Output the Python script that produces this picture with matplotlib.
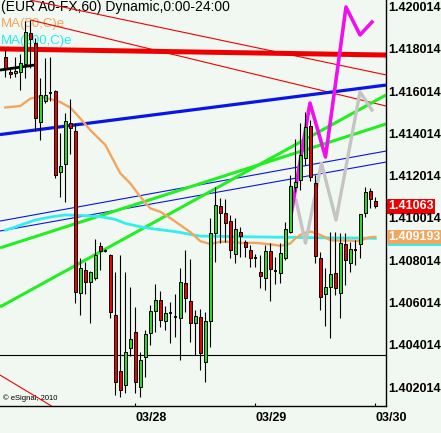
import numpy as np
import matplotlib.pyplot as plt
from matplotlib.patches import Rectangle
from matplotlib.transforms import blended_transform_factory

# EUR hourly bars (index = hour slot, 03/28 at 27, 03/29 at 51, 03/30 at 75)
bars = np.arange(1, 76)
opens = [1.41769, 1.41700, 1.41694, 1.41700, 1.41736, 1.41883, 1.41836, 1.41464, 1.41564, 1.41598,
         1.41609, 1.41227, 1.41262, 1.41456, 1.41420, 1.40652, 1.40762, 1.40707, 1.40723, 1.40876,
         1.40854, 1.40833, 1.40550, 1.40285, 1.40218, 1.40392, 1.40469, 1.40210, 1.40351, 1.40463,
         1.40570, 1.40620, 1.40523, 1.40557, 1.40541, 1.40534, 1.40701, 1.40616, 1.40510, 1.40539,
         1.40328, 1.40523, 1.40936, 1.41065, 1.41030, 1.40995, 1.40838, 1.40941, 1.40893, 1.40855,
         1.40817, 1.40751, 1.40723, 1.40854, 1.40759, 1.40747, 1.40818, 1.40943, 1.41156, 1.41188,
         1.41290, 1.41445, 1.41175, 1.40820, 1.40647, 1.40683, 1.40747, 1.40652, 1.40885, 1.40794,
         1.40857, 1.40884, 1.41030, 1.41136, 1.41090]
highs = [1.41803, 1.41722, 1.41769, 1.41784, 1.41940, 1.41945, 1.41859, 1.41670, 1.41765, 1.41769,
         1.41614, 1.41410, 1.41505, 1.41571, 1.41456, 1.40819, 1.40800, 1.40757, 1.40909, 1.40895,
         1.40862, 1.40838, 1.40754, 1.40833, 1.40754, 1.40683, 1.40589, 1.40375, 1.40478, 1.40597,
         1.40695, 1.40663, 1.40592, 1.40612, 1.40649, 1.40772, 1.40857, 1.40813, 1.40573, 1.40577,
         1.40564, 1.41008, 1.41156, 1.41101, 1.41098, 1.41022, 1.41007, 1.40967, 1.40904, 1.40881,
         1.40840, 1.40833, 1.40881, 1.40889, 1.40824, 1.40889, 1.40991, 1.41212, 1.41380, 1.41456,
         1.41511, 1.41472, 1.41212, 1.40847, 1.40772, 1.40942, 1.40941, 1.40936, 1.40937, 1.40896,
         1.40904, 1.41027, 1.41156, 1.41149, 1.41109]
lows = [1.41675, 1.41670, 1.41675, 1.41614, 1.41670, 1.41717, 1.41420, 1.41377, 1.41552, 1.41561,
        1.41198, 1.41107, 1.41085, 1.41311, 1.40605, 1.40550, 1.40649, 1.40512, 1.40715, 1.40762,
        1.40847, 1.40535, 1.40171, 1.40163, 1.40179, 1.40355, 1.40180, 1.40163, 1.40257, 1.40408,
        1.40470, 1.40492, 1.40478, 1.40417, 1.40447, 1.40339, 1.40564, 1.40423, 1.40360, 1.40289,
        1.40234, 1.40399, 1.40801, 1.40891, 1.40896, 1.40818, 1.40794, 1.40825, 1.40825, 1.40776,
        1.40776, 1.40676, 1.40668, 1.40617, 1.40696, 1.40699, 1.40809, 1.40936, 1.41130, 1.41140,
        1.41259, 1.41183, 1.40794, 1.40573, 1.40500, 1.40439, 1.40644, 1.40534, 1.40691, 1.40754,
        1.40786, 1.40818, 1.41014, 1.41057, 1.41054]
closes = [1.41717, 1.41689, 1.41703, 1.41739, 1.41888, 1.41857, 1.41481, 1.41590, 1.41590, 1.41598,
          1.41212, 1.41255, 1.41465, 1.41432, 1.40659, 1.40770, 1.40707, 1.40754, 1.40833, 1.40854,
          1.40854, 1.40564, 1.40234, 1.40194, 1.40376, 1.40436, 1.40234, 1.40336, 1.40458, 1.40568,
          1.40620, 1.40526, 1.40557, 1.40557, 1.40541, 1.40706, 1.40628, 1.40513, 1.40545, 1.40368,
          1.40521, 1.40936, 1.41070, 1.41030, 1.40986, 1.40857, 1.40956, 1.40925, 1.40872, 1.40818,
          1.40817, 1.40735, 1.40854, 1.40765, 1.40759, 1.40841, 1.40955, 1.41160, 1.41177, 1.41306,
          1.41437, 1.41204, 1.40830, 1.40636, 1.40680, 1.40742, 1.40676, 1.40891, 1.40808, 1.40860,
          1.40857, 1.41026, 1.41130, 1.41097, 1.41063]

# moving averages, read at a few bars
ma50_x = [1, 4, 6, 8, 10, 12, 13, 14, 16, 18, 21, 23, 24, 26, 28, 30, 32, 34, 36, 38, 40, 42,
          44, 46, 48, 51, 52, 55, 56, 57, 58, 59, 60, 61, 62, 63, 64, 65, 66, 67, 69, 71, 72, 73, 74, 75]
ma50_y = [1.41531, 1.41538, 1.41573, 1.41582, 1.41571, 1.41557, 1.41543, 1.41531, 1.41479, 1.41424,
          1.41354, 1.41264, 1.41220, 1.41172, 1.41109, 1.41054, 1.41038, 1.41008, 1.40975, 1.40942,
          1.40899, 1.40885, 1.40896, 1.40896, 1.40891, 1.40891, 1.40889, 1.40881, 1.40877, 1.40881,
          1.40888, 1.40912, 1.40928, 1.40939, 1.40944, 1.40939, 1.40928, 1.40917, 1.40904, 1.40902,
          1.40902, 1.40901, 1.40899, 1.40912, 1.40918, 1.40919]
ma200_x = [1, 3, 7, 10, 13, 16, 20, 23, 25, 28, 30, 35, 40, 48, 58, 64, 71, 75]
ma200_y = [1.40951, 1.40966, 1.40999, 1.41013, 1.41023, 1.41021, 1.41015, 1.41002, 1.40983, 1.40967,
           1.40959, 1.40944, 1.40923, 1.40920, 1.40917, 1.40915, 1.40914, 1.40912]

# drawn trend lines: (bar0, price0, bar1, price1)
red_thick = (-0.06, 1.41808, 77.14, 1.41779)
red_thin = [(5.94, 1.42039, 77.14, 1.41685), (6.0, 1.41945, 77.14, 1.41538), (-0.06, 1.40266, 10.28, 1.40119)]
blue_thick = (-0.06, 1.41403, 77.14, 1.41637)
blue_thin = [(-0.06, 1.40994, 77.14, 1.41325), (-0.06, 1.40947, 77.14, 1.41273)]
green_lines = [(-0.06, 1.40867, 77.14, 1.41453), (-0.06, 1.40588, 77.14, 1.41590)]
black_short = (-0.06, 1.41708, 6.94, 1.41732)
support = 1.40360

# projection zigzags
magenta_x = [58.14, 61.94, 65.04, 69.14, 71.94, 74.34]
magenta_y = [1.41022, 1.41552, 1.41297, 1.42006, 1.41874, 1.41935]
gray_x = [59.14, 61.04, 64.24, 67.14, 71.94, 74.34]
gray_y = [1.41093, 1.40890, 1.41268, 1.40999, 1.41604, 1.41519]

tick_values = [1.420014, 1.418014, 1.416014, 1.414014, 1.412014, 1.410014, 1.408014, 1.406014, 1.404014, 1.402014]
date_bars = [27, 51, 75]
date_labels = ["03/28", "03/29", "03/30"]
last_price = "1.41063"
ma50_last = "1.409193"

bg = "#f1f8f1"
fig = plt.figure(figsize=(4.41, 4.33), dpi=100, facecolor=bg)
ax = fig.add_axes([0, 27 / 433, 386 / 441, 406 / 433])
ax.set_facecolor(bg)
ax.set_xlim(-0.06, 77.14)
ax.set_ylim(1.401196, 1.420392)

for s in ["top", "left"]:
    ax.spines[s].set_visible(False)
ax.spines["right"].set_linewidth(1)
ax.spines["bottom"].set_linewidth(1)
ax.set_yticks([])
ax.set_xticks(date_bars)
ax.set_xticklabels([])
ax.tick_params(axis="x", direction="in", length=2, width=0.8)


def seg(line, **kw):
    ax.plot([line[0], line[2]], [line[1], line[3]], solid_capstyle="butt", **kw)


ax.axhline(support, color="black", lw=0.8, zorder=2)
seg(red_thick, color="#ee0000", lw=3.6, zorder=2)
for l in red_thin:
    seg(l, color="#ee0000", lw=0.8, zorder=2)
seg(blue_thick, color="#0a14e6", lw=2.3, zorder=2)
for l in blue_thin:
    seg(l, color="#0a14e6", lw=0.8, zorder=2)
for l in green_lines:
    seg(l, color="#22ee22", lw=2.2, zorder=2)
seg(black_short, color="black", lw=2.0, zorder=2)

ax.plot(ma200_x, ma200_y, color="#33eeee", lw=2.0, zorder=3)
ax.plot(ma50_x, ma50_y, color="#f2a55c", lw=1.7, zorder=3)

ax.plot(gray_x, gray_y, color="#c4c4c4", lw=2.4, zorder=3)
ax.plot(magenta_x, magenta_y, color="#ee11ee", lw=2.6, zorder=3)

# candles
o = np.array(opens)
c = np.array(closes)
ax.vlines(bars, lows, highs, color="black", lw=0.8, zorder=4)
for x, op, cl in zip(bars, o, c):
    if abs(cl - op) < 1e-6:
        ax.hlines(op, x - 0.35, x + 0.35, color="black", lw=1.3, zorder=5)
    else:
        col = "#22dd22" if cl > op else "#ee0000"
        ax.bar(x, cl - op, bottom=op, width=0.62, color=col, edgecolor="black", linewidth=0.7, zorder=5)

# titles
ax.text(0.003, 1 - 7.5 / 406, "(EUR A0-FX,60) Dynamic,0:00-24:00", transform=ax.transAxes,
        ha="left", va="center", fontsize=10, family="Liberation Sans", zorder=1)
ax.text(0.003, 1 - 24 / 406, "MA(50,C)e", transform=ax.transAxes, color="#f2a55c",
        ha="left", va="center", fontsize=9.5, family="Liberation Sans", zorder=1)
ax.text(0.003, 1 - 41 / 406, "MA(200,C)e", transform=ax.transAxes, color="#22eeee",
        ha="left", va="center", fontsize=9.5, family="Liberation Sans", zorder=1)
ax.text(0.008, 1 - 398 / 406, "\u00a9 eSignal, 2010", transform=ax.transAxes,
        ha="left", va="center", fontsize=5.5, family="Liberation Sans", zorder=1)

# right price scale
ytr = blended_transform_factory(ax.transAxes, ax.transData)
ax.add_patch(Rectangle((1.004, 1.40876), 0.14, 0.00009, transform=ytr, fc="#33eeee", ec="none",
                       clip_on=False, zorder=5))
ax.text(1.006, float(last_price), last_price, transform=ytr, ha="left", va="center", fontsize=9,
        fontweight="bold", family="Liberation Sans", color="white", clip_on=False, zorder=6,
        bbox=dict(boxstyle="square,pad=0.1", fc="#ee0000", ec="none"))
ax.text(1.006, float(ma50_last), ma50_last, transform=ytr, ha="left", va="center", fontsize=9,
        fontweight="bold", family="Liberation Sans", color="white", clip_on=False, zorder=6,
        bbox=dict(boxstyle="square,pad=0.1", fc="#f2a55c", ec="none"))
for v in tick_values:
    fig.text(388 / 441, 1 - (1.420392 - v) / 0.019196 * 406 / 433, "%.6f" % v, ha="left", va="center",
             fontsize=9, fontweight="bold", family="Liberation Sans", color="black", zorder=7)

xtr = blended_transform_factory(ax.transData, ax.transAxes)
for b, lab in zip(date_bars, date_labels):
    ax.text(b, -12 / 406, lab, transform=xtr, ha="left", va="center", fontsize=9,
            fontweight="bold", family="Liberation Sans", clip_on=False)

fig.savefig("out.png", dpi=100, facecolor=bg)
